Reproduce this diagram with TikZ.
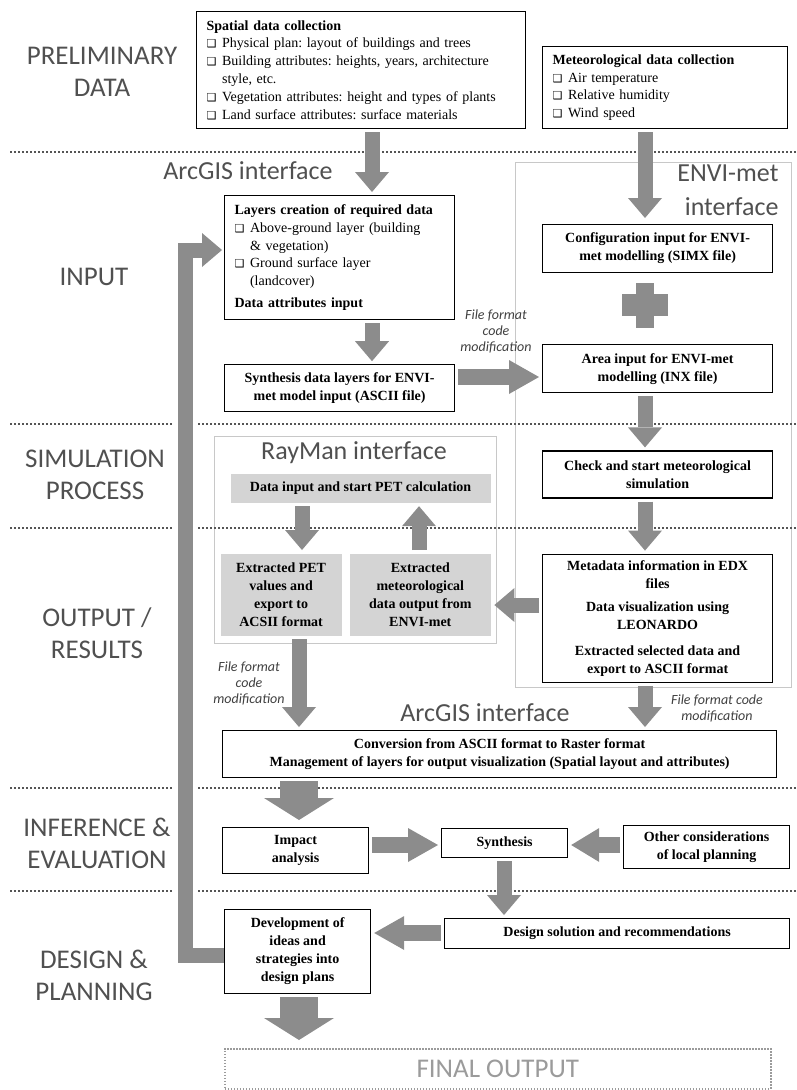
\documentclass[tikz,border=0pt]{standalone}
\usepackage{fontspec}
\setmainfont{Liberation Serif}
\newfontfamily\lblfont{Carlito}
\newfontfamily\symfont{DejaVu Sans}
\usetikzlibrary{arrows.meta,positioning}
\frenchspacing

\definecolor{arrowgray}{RGB}{140,140,140}
\definecolor{labelgray}{RGB}{80,80,80}
\definecolor{fillgray}{RGB}{212,212,212}
\definecolor{framegray}{RGB}{200,200,200}
\definecolor{dotgray}{RGB}{85,85,85}
\definecolor{notegray}{RGB}{64,64,64}
\definecolor{finalgray}{RGB}{155,155,155}

\newcommand{\chk}{{\symfont\fontsize{11}{11}\selectfont ❑}\hspace{0.4em}}
\newcommand{\hang}{\hphantom{\chk}}

\tikzset{
  box/.style={draw, line width=1.2pt, fill=white, align=center, inner sep=3pt,
    font=\fontsize{14}{18}\selectfont\bfseries},
  listbox/.style={box, align=left, inner xsep=10pt, font=\fontsize{14}{17.8}\selectfont},
  graybox/.style={box, draw=none, fill=fillgray},
  finalbox/.style={draw=finalgray, line width=1.5pt, dash pattern=on 1.5pt off 1.5pt,
    text=finalgray, font=\lblfont\fontsize{27}{30}\selectfont},
  frame/.style={draw=framegray, line width=1pt},
  phase/.style={font=\lblfont\fontsize{27}{32}\selectfont, text=labelgray, align=center},
  tool/.style={font=\lblfont\fontsize{26}{34}\selectfont, text=labelgray},
  note/.style={font=\lblfont\itshape\fontsize{14}{16}\selectfont, text=notegray, align=center},
  sep/.style={dotgray, line width=2.5pt, dash pattern=on 2pt off 2pt},
  blk/.style={arrowgray, line width=15pt, shorten <=3pt, shorten >=3pt,
    -{Triangle[width=34pt,length=20pt,line width=0pt]}},
  hblk/.style={blk, line width=16pt, -{Triangle[width=34pt,length=30pt,line width=0pt]}},
  bigblk/.style={blk, line width=38pt, -{Triangle[width=70pt,length=22pt,line width=0pt]}},
}

\begin{document}
\begin{tikzpicture}[x=1pt, y=-1pt]
\useasboundingbox (0,0) rectangle (796,1090);

% interface frames
\draw[frame] (515,162) rectangle (791,687);
\draw[frame] (214,436) rectangle (496,643);

% phase separators
\foreach \y in {152,424,528,788,891}
  \draw[sep] (10,\y) -- (796,\y);

% phase labels
\node[phase] (phPrelim) at (102,72) {PRELIMINARY\\DATA};
\node[phase] (phInput) at (94,277) {INPUT};
\node[phase] (phSimul) at (95,475) {SIMULATION\\PROCESS};
\node[phase] (phOutput) at (97,633) {OUTPUT /\\RESULTS};
\node[phase] (phInfer) at (97,843) {INFERENCE \&\\EVALUATION};
\node[phase] (phDesign) at (94,975) {DESIGN \&\\PLANNING};

% interface labels
\node[tool] (arcgisTop) at (248,171) {ArcGIS interface};
\node[tool, align=right, anchor=east] (enviLbl) at (782,190) {ENVI-met\\interface};
\node[tool] (raymanLbl) at (354,453) {RayMan interface};
\node[tool] (arcgisBot) at (485,713) {ArcGIS interface};

\node[note] (noteInx) at (496,331) {File format\\code\\modification};
\node[note] (notePet) at (249,683) {File format\\code\\modification};
\node[note] (noteEdx) at (717,708) {File format code\\modification};

% preliminary data
\node[listbox, text width=309pt, minimum height=117pt, anchor=north west] (spatial) at (196,11)
  {\textbf{Spatial data collection}\\
   \chk Physical plan: layout of buildings and trees\\
   \chk Building attributes: heights, years, architecture\\
   \hang style, etc.\\
   \chk Vegetation attributes: height and types of plants\\
   \chk Land surface attributes: surface materials};
\node[listbox, text width=225pt, minimum height=82pt, anchor=north west] (meteo) at (542,46)
  {\textbf{Meteorological data collection}\\
   \chk Air temperature\\
   \chk Relative humidity\\
   \chk Wind speed};

% input
\node[listbox, text width=210pt, minimum height=124pt, anchor=north west] (layers) at (224,195)
  {\textbf{Layers creation of required data}\\
   \chk Above-ground layer (building\\
   \hang \& vegetation)\\
   \chk Ground surface layer\\
   \hang (landcover)\\[4pt]
   \textbf{Data attributes input}};
\node[box, minimum width=230pt, minimum height=47pt] (synth) [below=44pt of layers]
  {Synthesis data layers for ENVI-\\met model input (ASCII file)};
\node[box, minimum width=230pt, minimum height=48pt, anchor=north west] (config) at (542,224)
  {Configuration input for ENVI-\\met modelling (SIMX file)};
\node[box, minimum width=230pt, minimum height=48pt] (area) [below=71pt of config]
  {Area input for ENVI-met\\modelling (INX file)};
\fill[arrowgray] (636,283) rectangle (654,328);
\fill[arrowgray] (622,294) rectangle (668,316);

% simulation and output
\node[box, minimum width=230pt, minimum height=47pt] (check) [below=57pt of area]
  {Check and start meteorological\\simulation};
\node[box, minimum width=230pt, minimum height=128pt] (meta) [below=55pt of check]
  {Metadata information in EDX\\files\\[5pt]
   Data visualization using\\LEONARDO\\[8pt]
   Extracted selected data and\\export to ASCII format};
\node[graybox, minimum width=260pt, minimum height=29pt, anchor=north west] (datain) at (230,473)
  {Data input and start PET calculation};
\node[graybox, minimum width=121pt, minimum height=82pt, anchor=north west] (pet) at (220,553)
  {Extracted PET\\values and\\export to\\ACSII format};
\node[graybox, minimum width=141pt, minimum height=82pt] (extmet) [right=7pt of pet]
  {Extracted\\meteorological\\data output from\\ENVI-met};
\node[box, minimum width=554pt, minimum height=47pt, anchor=north west] (conv) at (222,730)
  {Conversion from ASCII format to Raster format\\
   Management of layers for output visualization (Spatial layout and attributes)};

% inference and design
\node[box, minimum width=146pt, minimum height=46pt, anchor=north west] (impact) at (222,827)
  {Impact\\analysis};
\node[box, minimum width=126pt, minimum height=29pt, anchor=north west] (synthesis) at (441,828)
  {Synthesis};
\node[box, minimum width=166pt, minimum height=43pt, anchor=north west] (other) at (623,825)
  {Other considerations\\of local planning};
\node[box, minimum width=345pt, minimum height=30pt, anchor=north west] (solution) at (444,918)
  {Design solution and recommendations};
\node[box, minimum width=146pt, minimum height=84pt, anchor=north west] (develop) at (224,909)
  {Development of\\ideas and\\strategies into\\design plans};
\node[finalbox, minimum width=546pt, minimum height=40pt, anchor=north west] (final) at (224,1048)
  {FINAL OUTPUT};

% arrow columns and rows
\coordinate (colL) at (372,0);
\coordinate (colR) at (645,0);
\coordinate (colPet) at (302,0);
\coordinate (colMet) at (419,0);
\coordinate (colOut) at (299,0);
\coordinate (colSyn) at (504,0);
\coordinate (rowInx) at (0,377);
\coordinate (rowEdx) at (0,605);
\coordinate (rowImp) at (0,845);
\coordinate (rowSol) at (0,933);
\coordinate (fbBot) at (185,955);
\coordinate (fbTop) at (185,250);

\draw[blk] (spatial.south -| colL) -- (layers.north -| colL);
\draw[blk, shorten >=6pt] (meteo.south -| colR) -- (config.north -| colR);
\draw[blk] (layers.south -| colL) -- (synth.north -| colL);
\draw[hblk] (synth.east |- rowInx) -- (area.west |- rowInx);
\draw[blk] (area.south -| colR) -- (check.north -| colR);
\draw[blk] (check.south -| colR) -- (meta.north -| colR);
\draw[blk] (datain.south -| colPet) -- (pet.north -| colPet);
\draw[blk] (extmet.north -| colMet) -- (datain.south -| colMet);
\draw[blk, -{Triangle[width=34pt,length=20pt,line width=0pt]}] (meta.west |- rowEdx) -- (extmet.east |- rowEdx);
\draw[blk] (pet.south -| colOut) -- (conv.north -| colOut);
\draw[blk] (meta.south -| colR) -- (conv.north -| colR);
\draw[bigblk, shorten >=7pt] (conv.south -| colOut) -- (impact.north -| colOut);
\draw[hblk] (impact.east |- rowImp) -- (synthesis.west |- rowImp);
\draw[hblk, -{Triangle[width=34pt,length=28pt,line width=0pt]}] (other.west |- rowImp) -- (synthesis.east |- rowImp);
\draw[blk] (synthesis.south -| colSyn) -- (solution.north -| colSyn);
\draw[hblk] (solution.west |- rowSol) -- (develop.east |- rowSol);
\draw[bigblk, shorten >=8pt] (develop.south -| colOut) -- (final.north -| colOut);

% feedback loop
\draw[white, line width=23pt] (fbBot) -- (fbTop);
\draw[blk, shorten <=0pt, shorten >=2pt, line join=miter] (develop.west |- fbBot) -- (fbBot) -- (fbTop) -- (layers.west |- fbTop);
\end{tikzpicture}
\end{document}
